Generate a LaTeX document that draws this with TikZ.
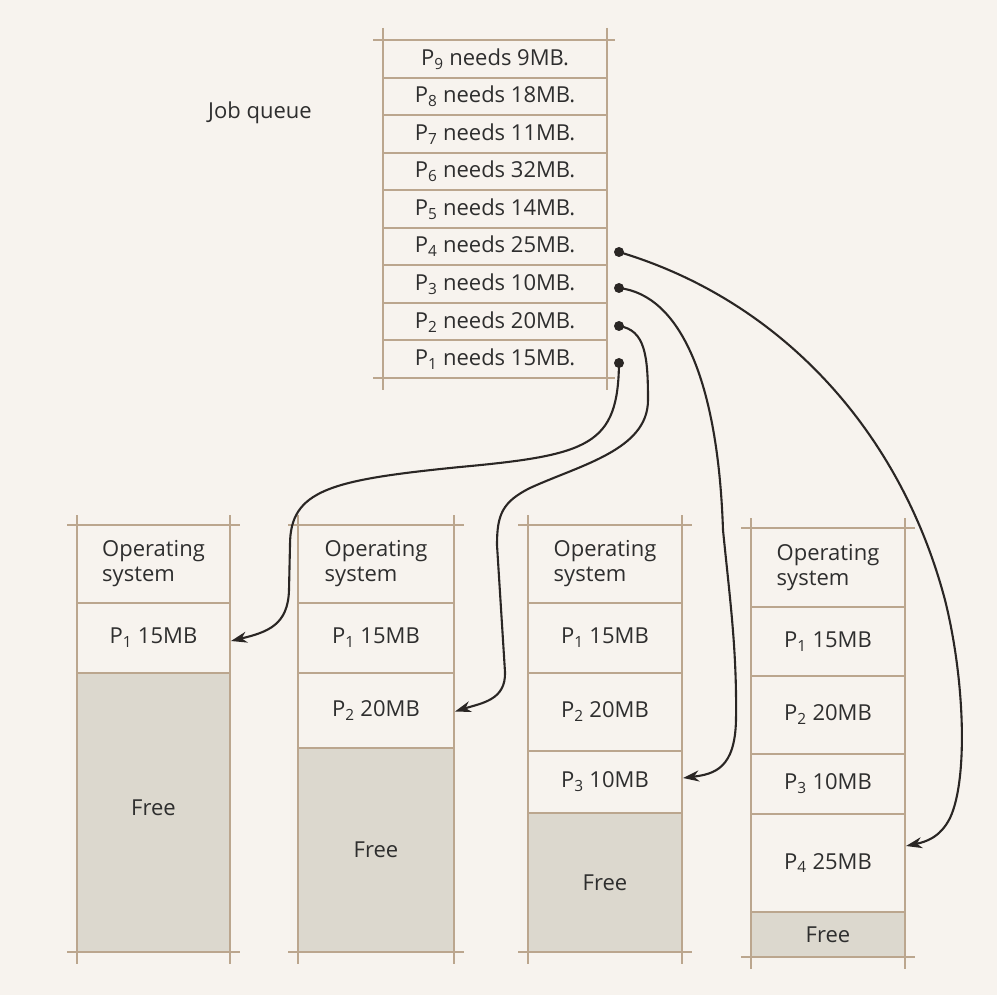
\documentclass[tikz,border=0pt]{standalone}
\usepackage{fontspec}
\setmainfont{Open Sans}
\usetikzlibrary{arrows.meta}
\definecolor{paper}{HTML}{F7F3EE}
\definecolor{rulec}{HTML}{BBA68E}
\definecolor{freec}{HTML}{DCD8CE}
\definecolor{inkc}{HTML}{2E2E2E}
\definecolor{wirec}{HTML}{2A2624}
\newcommand{\Pn}[1]{P\textsubscript{#1}}
\begin{document}
\begin{tikzpicture}[x=1pt,y=-1pt,
  font=\fontsize{22}{25}\selectfont, text=inkc,
  rule/.style={draw=rulec, line width=2pt},
  jobrow/.style={rule, minimum width=224pt, minimum height=37.56pt, inner sep=0pt, outer sep=0pt},
  cell/.style={rule, inner sep=0pt, outer sep=0pt, align=left, anchor=north},
  freecell/.style={cell, fill=freec},
  dotmark/.style={circle, fill=wirec, inner sep=0pt, minimum size=10pt},
  wire/.style={draw=wirec, line width=2.1pt, -{Stealth[length=16pt,width=11pt,inset=5pt]}}]
\useasboundingbox[fill=paper] (0,0) rectangle (997,995);

% ---- job queue ----
\node at (260,113) {Job queue};
\foreach \n/\mb [count=\i from 0] in {9/9,8/18,7/11,6/32,5/14,4/25,3/10,2/20,1/15}
  \node[jobrow] (q\n) at (495,{40+18.78+37.56*\i}) {\Pn{\n} needs \mb MB.};
\draw[rule] ([xshift=-10pt]q9.north west) -- ([xshift=8pt]q9.north east);
\draw[rule] ([xshift=-10pt]q1.south west) -- ([xshift=8pt]q1.south east);
\draw[rule] ([yshift=12pt]q9.north west) -- ([yshift=-12pt]q1.south west);
\draw[rule] ([yshift=12pt]q9.north east) -- ([yshift=-12pt]q1.south east);

% ---- memory snapshots ----
% snapshot 1
\node[cell, minimum width=153pt, minimum height=78pt] (a0) at (153.5,525) {Operating\\system};
\node[cell, minimum width=153pt, minimum height=70pt] (a1) at (a0.south) {\Pn{1} 15MB};
\node[freecell, minimum width=153pt, minimum height=279pt] (af) at (a1.south) {\raisebox{10pt}{Free}};
% snapshot 2
\node[cell, minimum width=156pt, minimum height=78pt] (b0) at (376,525) {Operating\\system};
\node[cell, minimum width=156pt, minimum height=70pt] (b1) at (b0.south) {\Pn{1} 15MB};
\node[cell, minimum width=156pt, minimum height=75pt] (b2) at (b1.south) {\Pn{2} 20MB};
\node[freecell, minimum width=156pt, minimum height=204pt] (bf) at (b2.south) {Free};
% snapshot 3
\node[cell, minimum width=154pt, minimum height=78pt] (c0) at (605,525) {Operating\\system};
\node[cell, minimum width=154pt, minimum height=70pt] (c1) at (c0.south) {\Pn{1} 15MB};
\node[cell, minimum width=154pt, minimum height=78pt] (c2) at (c1.south) {\Pn{2} 20MB};
\node[cell, minimum width=154pt, minimum height=62pt] (c3) at (c2.south) {\Pn{3} 10MB};
\node[freecell, minimum width=154pt, minimum height=139pt] (cf) at (c3.south) {Free};
% snapshot 4
\node[cell, minimum width=154pt, minimum height=79pt] (d0) at (828,528) {Operating\\system};
\node[cell, minimum width=154pt, minimum height=69pt] (d1) at (d0.south) {\Pn{1} 15MB};
\node[cell, minimum width=154pt, minimum height=78pt] (d2) at (d1.south) {\Pn{2} 20MB};
\node[cell, minimum width=154pt, minimum height=60pt] (d3) at (d2.south) {\Pn{3} 10MB};
\node[cell, minimum width=154pt, minimum height=98pt] (d4) at (d3.south) {\Pn{4} 25MB};
\node[freecell, minimum width=154pt, minimum height=45pt] (df) at (d4.south) {Free};

% corner ticks of each snapshot
\foreach \t/\b in {a0/af,b0/bf,c0/cf,d0/df}{
  \draw[rule] ([xshift=-10pt]\t.north west) -- ([xshift=10pt]\t.north east);
  \draw[rule] ([xshift=-10pt]\b.south west) -- ([xshift=10pt]\b.south east);
  \draw[rule] ([yshift=10pt]\t.north west) -- ([yshift=-12pt]\b.south west);
  \draw[rule] ([yshift=10pt]\t.north east) -- ([yshift=-12pt]\b.south east);
}

% ---- allocation arrows ----
\node[dotmark] (s4) at (619,252) {};
\node[dotmark] (s3) at (619,288) {};
\node[dotmark] (s2) at (619,326) {};
\node[dotmark] (s1) at (619,363) {};

\path[wire] (s1.center) .. controls (618,445) and (590,455) .. (460,467)
  .. controls (330,480) and (290,490) .. (290,545) -- (289,590)
  .. controls (288,625) and (268,632) .. ([xshift=1pt,yshift=-3pt]a1.east);
\path[wire] (s2.center) .. controls (645,330) and (648,355) .. (648,400)
  .. controls (648,450) and (580,465) .. (530,488)
  .. controls (502,502) and (497,515) .. (497,545) -- (505,672)
  .. controls (506,700) and (482,703) .. ([xshift=1pt,yshift=-1pt]b2.east);
\path[wire] (s3.center) .. controls (680,295) and (718,380) .. (723,530)
  .. controls (730,600) and (737,650) .. (736,720)
  .. controls (735,768) and (715,774) .. ([xshift=1pt,yshift=4pt]c3.east);
\path[wire] (s4.center) .. controls (780,300) and (900,430) .. (945,600)
  .. controls (965,680) and (968,780) .. (950,818)
  .. controls (940,838) and (925,842) .. ([xshift=1pt,yshift=17pt]d4.east);
\end{tikzpicture}
\end{document}
